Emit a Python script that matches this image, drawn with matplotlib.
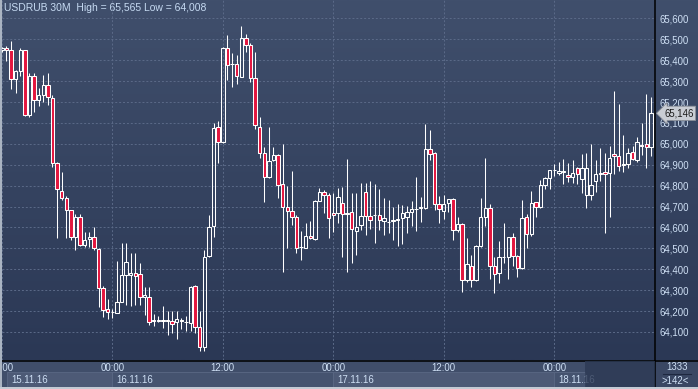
import numpy as np
import matplotlib
matplotlib.use("Agg")
import matplotlib.pyplot as plt
import matplotlib.transforms as mtrans
from matplotlib.patches import Rectangle
from matplotlib.lines import Line2D

plt.rcParams['font.family'] = ['Liberation Sans', 'DejaVu Sans']

# USDRUB 30M candles, 15.11.16 12:00 .. 18.11.16 10:30
opens = [65448, 65457, 65447, 65309, 65348, 65447, 65136, 65325, 65208, 65232,
         65280, 65218, 64910, 64776, 64739, 64682, 64556, 64651, 64514, 64543,
         64556, 64498, 64309, 64208, 64194, 64189, 64245, 64371, 64371, 64383,
         64376, 64269, 64269, 64156, 64154, 64154, 64154, 64151, 64147, 64154,
         64150, 64141, 64321, 64122, 64029, 64465, 64608, 65079, 65010, 65457,
         65380, 65380, 65321, 65505, 65473, 65313, 65082, 64958, 64840, 64923,
         64947, 64806, 64696, 64680, 64648, 64505, 64503, 64561, 64545, 64728,
         64771, 64755, 64667, 64667, 64715, 64664, 64675, 64583, 64612, 64771,
         64655, 64659, 64659, 64631, 64627, 64633, 64638, 64643, 64648, 64675,
         64688, 64694, 64691, 64974, 64955, 64710, 64680, 64715, 64734, 64588,
         64616, 64348, 64417, 64348, 64511, 64651, 64691, 64417, 64380, 64457,
         64460, 64553, 64463, 64404, 64648, 64567, 64720, 64696, 64803, 64836,
         64874, 64859, 64867, 64849, 64841, 64883, 64830, 64754, 64754, 64824,
         64860, 64867, 64859, 64950, 64943, 64901, 64902, 64962, 64923, 64996,
         65001, 64985]
highs = [65465, 65468, 65492, 65352, 65457, 65450, 65340, 65340, 65266, 65329,
         65340, 65232, 64915, 64865, 64750, 64685, 64663, 64663, 64577, 64577,
         64604, 64503, 64321, 64256, 64208, 64441, 64524, 64524, 64479, 64479,
         64428, 64317, 64317, 64186, 64176, 64222, 64200, 64200, 64200, 64168,
         64176, 64321, 64324, 64200, 64492, 64659, 65098, 65108, 65465, 65521,
         65433, 65425, 65565, 65526, 65481, 65441, 65127, 64983, 65079, 64983,
         64950, 64999, 64798, 64870, 64659, 64583, 64623, 64631, 64730, 64787,
         64779, 64763, 64763, 64787, 64795, 64926, 64763, 64763, 64811, 64811,
         64824, 64806, 64782, 64739, 64731, 64699, 64712, 64707, 64702, 64726,
         64840, 64747, 65093, 65066, 64960, 64750, 64755, 64738, 64739, 64651,
         64620, 64548, 64468, 64515, 64739, 64931, 64712, 64457, 64537, 64620,
         64555, 64572, 64468, 64731, 64664, 64774, 64722, 64827, 64843, 64877,
         64902, 64911, 64926, 64907, 64923, 64891, 64951, 64955, 64999, 64923,
         64978, 64955, 64990, 65253, 65191, 65042, 64978, 64990, 65031, 65098,
         65238, 65222]
lows = [65440, 65398, 65262, 65242, 65325, 65133, 65130, 65154, 65183, 65202,
        65187, 64891, 64551, 64731, 64548, 64540, 64492, 64510, 64505, 64508,
        64492, 64221, 64173, 64160, 64168, 64189, 64245, 64229, 64226, 64229,
        64229, 64179, 64133, 64128, 64150, 64117, 64085, 64093, 64065, 64112,
        64106, 64106, 64093, 64008, 64010, 64460, 64556, 64910, 65005, 65305,
        65274, 65285, 65318, 65441, 65297, 65069, 64931, 64723, 64835, 64920,
        64739, 64385, 64503, 64611, 64476, 64444, 64500, 64545, 64542, 64725,
        64671, 64548, 64580, 64620, 64457, 64388, 64431, 64468, 64590, 64564,
        64592, 64527, 64588, 64564, 64572, 64540, 64511, 64519, 64572, 64607,
        64584, 64628, 64688, 64923, 64683, 64623, 64640, 64675, 64540, 64580,
        64293, 64340, 64317, 64345, 64508, 64608, 64352, 64288, 64336, 64431,
        64355, 64415, 64361, 64402, 64503, 64561, 64651, 64694, 64782, 64782,
        64846, 64851, 64806, 64819, 64811, 64806, 64766, 64691, 64731, 64771,
        64822, 64572, 64651, 64856, 64872, 64867, 64886, 64923, 64915, 64947,
        64886, 64943]
closes = [65458, 65447, 65309, 65348, 65447, 65136, 65325, 65208, 65232, 65280,
          65222, 64907, 64782, 64739, 64682, 64556, 64651, 64514, 64541, 64556,
          64503, 64309, 64205, 64194, 64196, 64245, 64371, 64433, 64383, 64367,
          64269, 64275, 64149, 64152, 64154, 64154, 64156, 64138, 64160, 64154,
          64146, 64317, 64122, 64026, 64460, 64604, 65074, 65010, 65457, 65377,
          65380, 65325, 65505, 65473, 65313, 65090, 64955, 64840, 64919, 64947,
          64803, 64696, 64680, 64648, 64503, 64505, 64561, 64548, 64728, 64771,
          64755, 64643, 64659, 64744, 64664, 64670, 64591, 64604, 64655, 64655,
          64636, 64661, 64636, 64647, 64624, 64634, 64640, 64670, 64672, 64687,
          64690, 64696, 64974, 64951, 64710, 64687, 64710, 64734, 64588, 64616,
          64348, 64425, 64348, 64513, 64651, 64691, 64417, 64377, 64457, 64459,
          64553, 64463, 64404, 64643, 64567, 64715, 64696, 64803, 64836, 64875,
          64877, 64870, 64867, 64841, 64862, 64854, 64883, 64883, 64803, 64856,
          64854, 64854, 64931, 64940, 64895, 64902, 64955, 64926, 65010, 64990,
          64985, 65146]

time_ticks = [0, 24, 48, 72, 96, 120]
time_labels = ['12:00', '00:00', '12:00', '00:00', '12:00', '00:00']
day_starts = [1.2, 24, 72, 120]
day_ends = [24, 72, 120, 126.7]
day_labels = ['15.11.16', '16.11.16', '17.11.16', '18.11.16']
price_ticks = list(range(64100, 65601, 100))

W, H = 698, 389
BG_TOP = np.array([0x40, 0x4f, 0x6c]) / 255
BG_BOT = np.array([0x2b, 0x38, 0x55]) / 255
TXT = '#cfe0f5'
RED = '#e3163f'
FS = 6.9
LW = 0.75


def fbox(x0, y0, x1, y1):
    # pixel box (top-left origin) -> figure fraction
    return [x0 / W, 1 - y1 / H, (x1 - x0) / W, (y1 - y0) / H]


fig = plt.figure(figsize=(W / 100, H / 100), dpi=100)

# background layer in pixel coords
bg = fig.add_axes([0, 0, 1, 1])
bg.set_xlim(0, W)
bg.set_ylim(H, 0)
bg.axis('off')
t = np.linspace(0, 1, 256)[:, None, None]
grad = BG_TOP * (1 - t) + BG_BOT * t
bg.imshow(np.repeat(grad, 2, axis=1), extent=(0, W, 360, 0), aspect='auto')
bg.add_patch(Rectangle((0, 360), W, H - 360, color='#404e6a', lw=0))
bg.add_patch(Rectangle((655, 360), W - 655, H - 360, color='#3a4763', lw=0))
bg.add_line(Line2D([655, 655], [0, H], color='black', lw=1.1))
bg.add_line(Line2D([0, W], [360.5, 360.5], color='black', lw=1.1))
bg.text(4, 2.5, 'USDRUB 30M  High = 65,565 Low = 64,008', color='#c6daf2',
        fontsize=7.5, va='top', ha='left')
bg.text(688, 367, '1333', color=TXT, fontsize=FS, ha='right', va='center')
bg.add_line(Line2D([663, 691], [373.5, 373.5], color='#1e2840', lw=0.8))
bg.text(689, 380.5, '>142<', color=TXT, fontsize=FS, ha='right', va='center')

# candle chart
ax = fig.add_axes(fbox(1.5, 0, 655, 360))
ax.set_facecolor('none')
for s in ax.spines.values():
    s.set_visible(False)

o = np.array(opens)
h = np.array(highs)
l = np.array(lows)
c = np.array(closes)
x = np.arange(len(o))
up = c >= o
top = np.maximum(o, c)
bot = np.minimum(o, c)
ht = np.maximum(top - bot, 2)

ax.vlines(x, top, h, color='white', lw=LW, zorder=3)
ax.vlines(x, l, bot, color='white', lw=LW, zorder=3)
ax.bar(x[up], ht[up], bottom=bot[up], width=0.74, facecolor='none',
       edgecolor='white', lw=LW, zorder=4)
ax.bar(x[~up], ht[~up], bottom=bot[~up], width=0.74, facecolor=RED,
       edgecolor='white', lw=LW, zorder=4)

ax.set_xlim(-0.07, 141.88)
ax.set_ylim(63966, 65688)

ax.set_yticks(price_ticks)
ax.set_yticklabels([f'{v:,}' for v in price_ticks])
ax.yaxis.tick_right()
ax.tick_params(axis='y', length=0, pad=3, labelsize=FS, labelcolor=TXT)
ax.set_xticks(time_ticks)
ax.set_xticklabels(time_labels)
ax.tick_params(axis='x', length=0, pad=2.5, labelsize=FS, labelcolor=TXT)
ax.grid(True, color='#5b6a88', linestyle=(0, (2, 2)), lw=0.7, zorder=1)

# date strip under the time labels
tr = mtrans.blended_transform_factory(ax.transData, ax.transAxes)
for i, (a, b, lab) in enumerate(zip(day_starts, day_ends, day_labels)):
    fc = '#4d5a76' if i % 2 == 0 else '#45536f'
    ax.add_patch(Rectangle((a, -0.075), b - a, 0.042, transform=tr,
                           facecolor=fc, edgecolor='#5a6884', lw=0.6,
                           clip_on=False, zorder=2))
    ax.text(a + 0.8, -0.055, lab, transform=tr, color=TXT, fontsize=FS,
            va='center', ha='left', clip_on=False, zorder=3)
ax.add_patch(Rectangle((day_ends[-1], -0.075), 141.88 - day_ends[-1], 0.073,
                       transform=tr, facecolor='#2c3954', alpha=0.8, lw=0,
                       clip_on=False, zorder=4))

# last price marker
tr2 = mtrans.blended_transform_factory(ax.transAxes, ax.transData)
ax.text(1.014, closes[-1], f'{closes[-1]:,}', transform=tr2, color='#1a1a1a',
        fontsize=FS, va='center', ha='left', zorder=6,
        bbox=dict(boxstyle='larrow,pad=0.22', facecolor='#c9cdd4',
                  edgecolor='#8a8f98', lw=0.6))

# light frame on left and bottom edges
fig.add_artist(Rectangle((0, 0), 2 / W, 1, transform=fig.transFigure,
                         color='#aab4c2', lw=0, zorder=10))
fig.add_artist(Rectangle((0, 0), 1, 2 / H, transform=fig.transFigure,
                         color='#c3cad4', lw=0, zorder=10))

fig.savefig('out.png', dpi=100)
